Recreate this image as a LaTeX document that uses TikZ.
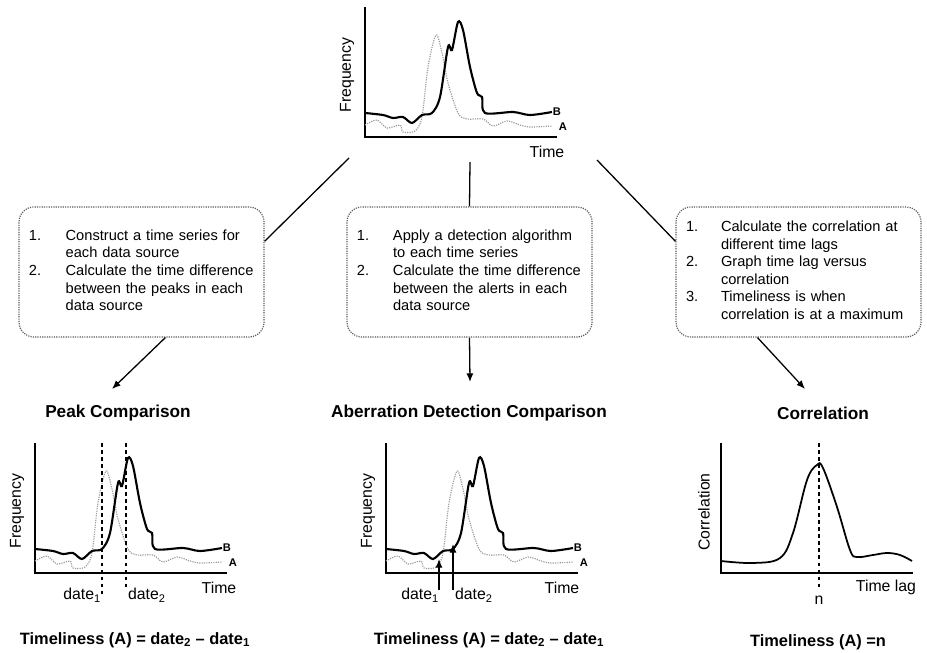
\documentclass[tikz,border=0pt]{standalone}
\usepackage{fontspec}
\setmainfont{Liberation Sans}
\usetikzlibrary{arrows.meta,positioning}

\begin{document}
\begin{tikzpicture}[x=0.03cm, y=-0.03cm,
  every node/.style={font=\fontsize{13.5}{15}\selectfont},
  stepbox/.style={draw=black!65, densely dotted, line width=1pt, rounded corners=0.45cm,
    minimum height=3.9cm, inner xsep=0.3cm, text width=6.75cm, align=left,
    font=\fontsize{12.5}{15}\selectfont},
  heading/.style={font=\fontsize{14.7}{17}\selectfont\bfseries},
  result/.style={font=\fontsize{14}{17}\selectfont\bfseries},
  link/.style={line width=1.1pt},
  arrowlink/.style={link, -{Latex[length=2.6mm, width=2.1mm]}},
  axis/.style={line width=1.2pt},
  seriesB/.style={line width=1.8pt, smooth, tension=0.5},
  seriesA/.style={gray!80, line width=1pt, densely dotted, smooth, tension=0.5},
  tag/.style={font=\fontsize{9.5}{9.5}\selectfont\bfseries, inner sep=1pt}
]
\useasboundingbox (0,0) rectangle (927,653);

% Time series charts (top, peak comparison, aberration detection)
\foreach \ox/\oy/\tx/\nm in {365/137/182/top, 35/573/184/peak, 386/573/176/alert} {
  \begin{scope}[shift={(\ox,\oy)}, yscale=-1]
    \draw[axis] (0,130) -- (0,0) -- (192,0);
    \draw[seriesA] plot coordinates {(0,12) (12,17) (22,9) (35,12) (38,5) (50,6) (57,20) (63,70)
      (71,102) (77,84) (83,54) (93,24) (102,18) (118,18) (128,11) (142,16) (155,12) (165,10) (187,11)};
    \draw[seriesB] plot coordinates {(0,24) (18,22) (28,19) (38,20) (47,14) (57,22) (67,24) (75,40)
      (83,90) (87,87) (93,115) (98,107) (105,70) (112,44) (117,40) (120,24) (148,25) (165,22) (187,25)};
    \node[tag] (B-\nm) at (192,25) {B};
    \node[tag] (A-\nm) at (198,10) {A};
    \node[rotate=90] (freq-\nm) at (-18,62) {Frequency};
    \node (time-\nm) at (\tx,-15) {Time};
  \end{scope}
}

% Method boxes
\node[stepbox] (boxL) at (141.5,272) {\begin{tabular}{@{}p{1.1cm}@{}l@{}}
  1. & Construct a time series for\\ & each data source\\
  2. & Calculate the time difference\\ & between the peaks in each\\ & data source\end{tabular}};
\node[stepbox] (boxM) at (469.5,272) {\begin{tabular}{@{}p{1.08cm}@{}l@{}}
  1. & Apply a detection algorithm\\ & to each time series\\
  2. & Calculate the time difference\\ & between the alerts in each\\ & data source\end{tabular}};
\node[stepbox] (boxR) at (798.5,272) {\begin{tabular}{@{}p{1.05cm}@{}l@{}}
  1. & Calculate the correlation at\\ & different time lags\\
  2. & Graph time lag versus\\ & correlation\\
  3. & Timeliness is when\\ & correlation is at a maximum\end{tabular}};

% Lines from the top chart
\coordinate (cL) at (349,158);
\coordinate (cM) at (470,162);
\coordinate (cR) at (597,160);
\draw[link] (cL) -- (boxL.14.5);
\draw[link] (cM) -- (boxM.north);
\draw[link] (cR) -- (boxR.166.6);

% Headings
\node[heading] (hdL) at (118,413) {Peak Comparison};
\node[heading] (hdM) at (469,413) {Aberration Detection Comparison};
\node[heading] (hdR) at (823,413) {Correlation};

\coordinate (tipL) at (112,389);
\coordinate (tipM) at (470,382);
\coordinate (tipR) at (805,389);
\draw[arrowlink] (boxL.-70) -- (tipL);
\draw[arrowlink] (boxM.south) -- (tipM);
\draw[arrowlink] (boxR.-122.6) -- (tipR);

% Peak dates
\coordinate (pk1top) at (102,443);
\coordinate (pk1bot) at (102,597);
\coordinate (pk2top) at (126,443);
\coordinate (pk2bot) at (126,587);
\draw[dashed, line width=1.1pt] (pk1top) -- (pk1bot);
\draw[dashed, line width=1.1pt] (pk2top) -- (pk2bot);
\node[anchor=east] (date1L) at (105,595) {date\textsubscript{1}};
\node[anchor=west] (date2L) at (124,595) {date\textsubscript{2}};

% Alert dates
\coordinate (al1low) at (439,590);
\coordinate (al1up) at (439,559);
\coordinate (al2low) at (453,590);
\coordinate (al2up) at (453,544);
\draw[arrowlink] (al1low) -- (al1up);
\draw[arrowlink] (al2low) -- (al2up);
\node[anchor=east] (date1M) at (443,595) {date\textsubscript{1}};
\node[anchor=west] (date2M) at (451,595) {date\textsubscript{2}};

% Correlation chart
\begin{scope}[shift={(721,573)}, yscale=-1]
  \draw[axis] (0,130) -- (0,0) -- (192,0);
  \draw[line width=1.5pt, smooth, tension=0.6] plot coordinates {(0,12) (32,10) (59,15) (72,40)
    (86,93) (96,108) (102,105) (116,66) (129,23) (136,16) (152,18) (166,20) (179,18) (191,12)};
  \draw[dashed, line width=1.1pt] (98,130) -- (98,-17);
  \node (lagn) at (98,-27) {n};
  \node (lag) at (165,-14) {Time lag};
  \node[rotate=90] (corr) at (-17,61) {Correlation};
\end{scope}

% Timeliness
\node[result] (resL) at (135,640) {Timeliness (A) = date\textsubscript{2} -- date\textsubscript{1}};
\node[result] (resM) at (489,640) {Timeliness (A) = date\textsubscript{2} -- date\textsubscript{1}};
\node[result] (resR) at (818,642) {Timeliness (A) =n};

\end{tikzpicture}
\end{document}
